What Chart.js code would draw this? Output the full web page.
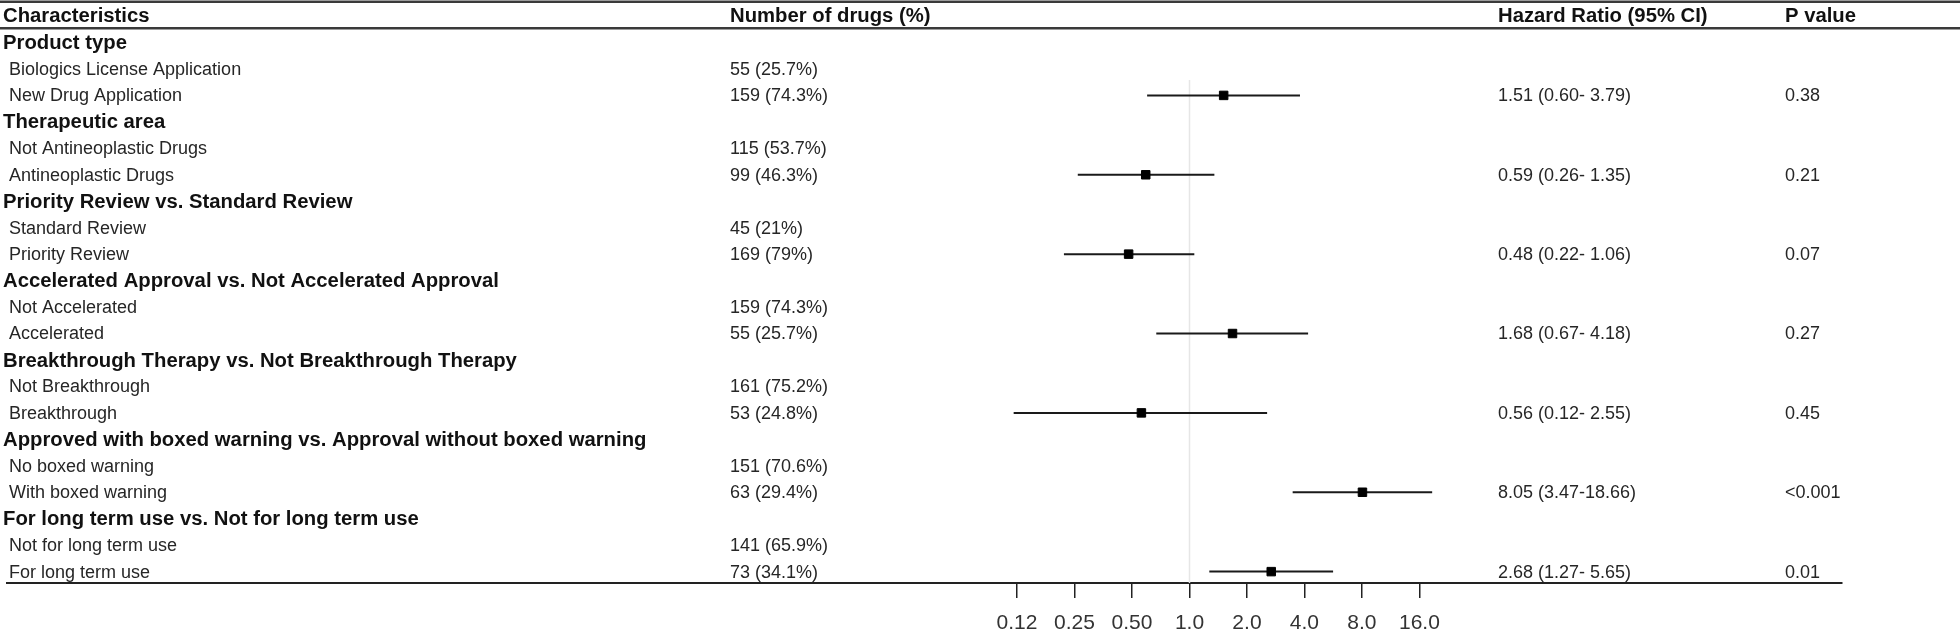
<!DOCTYPE html>
<html>
<head>
<meta charset="utf-8">
<script src="https://cdn.jsdelivr.net/npm/chart.js@4.4.1/dist/chart.umd.min.js"></script>
<style>
html,body{margin:0;padding:0;background:#ffffff;}
#wrap{width:1960px;height:639px;}
</style>
</head>
<body>
<div id="wrap"><canvas id="c" width="1960" height="639"></canvas></div>
<script>
// ---------------- data ----------------
const columnHeaders = ['Characteristics', 'Number of drugs (%)', 'Hazard Ratio (95% CI)', 'P value'];

const rowLabels = [
  'Product type', 'Biologics License Application', 'New Drug Application',
  'Therapeutic area', 'Not Antineoplastic Drugs', 'Antineoplastic Drugs',
  'Priority Review vs. Standard Review', 'Standard Review', 'Priority Review',
  'Accelerated Approval vs. Not Accelerated Approval', 'Not Accelerated', 'Accelerated',
  'Breakthrough Therapy vs. Not Breakthrough Therapy', 'Not Breakthrough', 'Breakthrough',
  'Approved with boxed warning vs. Approval without boxed warning', 'No boxed warning', 'With boxed warning',
  'For long term use vs. Not for long term use', 'Not for long term use', 'For long term use'
];

const isGroupHeader = [1,0,0, 1,0,0, 1,0,0, 1,0,0, 1,0,0, 1,0,0, 1,0,0];

const drugCounts = [
  '', '55 (25.7%)', '159 (74.3%)',
  '', '115 (53.7%)', '99 (46.3%)',
  '', '45 (21%)', '169 (79%)',
  '', '159 (74.3%)', '55 (25.7%)',
  '', '161 (75.2%)', '53 (24.8%)',
  '', '151 (70.6%)', '63 (29.4%)',
  '', '141 (65.9%)', '73 (34.1%)'
];

const hazardRatio = [null,null,1.51, null,null,0.59, null,null,0.48, null,null,1.68, null,null,0.56, null,null,8.05, null,null,2.68];
const ciLower     = [null,null,0.60, null,null,0.26, null,null,0.22, null,null,0.67, null,null,0.12, null,null,3.47, null,null,1.27];
const ciUpper     = [null,null,3.79, null,null,1.35, null,null,1.06, null,null,4.18, null,null,2.55, null,null,18.66, null,null,5.65];

const hrText = [
  '', '', '1.51 (0.60- 3.79)',
  '', '', '0.59 (0.26- 1.35)',
  '', '', '0.48 (0.22- 1.06)',
  '', '', '1.68 (0.67- 4.18)',
  '', '', '0.56 (0.12- 2.55)',
  '', '', '8.05 (3.47-18.66)',
  '', '', '2.68 (1.27- 5.65)'
];

const pValues = [
  '', '', '0.38',
  '', '', '0.21',
  '', '', '0.07',
  '', '', '0.27',
  '', '', '0.45',
  '', '', '<0.001',
  '', '', '0.01'
];

const tickValues = [0.125, 0.25, 0.5, 1, 2, 4, 8, 16];
const tickLabels = ['0.12', '0.25', '0.50', '1.0', '2.0', '4.0', '8.0', '16.0'];
const referenceValue = 1;

// ---------------- layout / style ----------------
const W = 1960;
const FONT = '"Liberation Sans", Arial, sans-serif';
const colX = { label: 3, item: 9, count: 730, hr: 1498, p: 1785 };
const axisLeftPx = 0, axisRightPx = 1842, unityPx = 1187, pxPerDoubling = 57.7;
const xMin = Math.pow(2, (axisLeftPx - unityPx) / pxPerDoubling);
const xMax = Math.pow(2, (axisRightPx - unityPx) / pxPerDoubling);
const yMin = -0.51, yMax = 20.43;

// ---------------- datasets ----------------
const datasets = [];
const markerData = [];
rowLabels.forEach((_, i) => {
  if (hazardRatio[i] !== null) {
    markerData.push({ x: hazardRatio[i], y: i });
    datasets.push({
      type: 'line',
      data: [{ x: ciLower[i], y: i }, { x: ciUpper[i], y: i }],
      borderColor: '#1a1a1a', borderWidth: 2, pointRadius: 0, order: 1, clip: false
    });
  }
});
datasets.push({
  type: 'scatter',
  data: markerData,
  pointStyle: 'rect', pointRadius: 6, borderWidth: 1,
  backgroundColor: '#000', borderColor: '#000', order: 0
});
datasets.push({
  type: 'line',
  data: [{ x: referenceValue, y: 1.42 }, { x: referenceValue, y: yMax }],
  borderColor: '#e6e6e6', borderWidth: 1.5, pointRadius: 0, order: 2
});

// ---------------- text plugin ----------------
const tablePlugin = {
  id: 'tablePlugin',
  afterDraw(chart) {
    const c = chart.ctx;
    const ys = chart.scales.y;
    c.save();
    c.fillStyle = '#3a3a3a';
    c.fillRect(0, 0.5, W, 2.5);
    c.fillRect(0, 27, W, 2.5);

    c.textBaseline = 'middle';
    c.textAlign = 'left';
    c.fillStyle = '#111';
    c.font = 'bold 20.3px ' + FONT;
    c.fillText(columnHeaders[0], colX.label, 16.5);
    c.fillText(columnHeaders[1], colX.count, 16.5);
    c.fillText(columnHeaders[2], colX.hr, 16.5);
    c.fillText(columnHeaders[3], colX.p, 16.5);

    rowLabels.forEach((lab, i) => {
      const y = ys.getPixelForValue(i) + 1;
      if (isGroupHeader[i]) {
        c.font = 'bold 20.3px ' + FONT;
        c.fillStyle = '#111';
        c.fillText(lab, colX.label, y);
      } else {
        c.font = '18px ' + FONT;
        c.fillStyle = '#262626';
        c.fillText(lab, colX.item, y);
        c.fillText(drugCounts[i], colX.count, y);
        if (hrText[i]) c.fillText(hrText[i], colX.hr, y);
        if (pValues[i]) c.fillText(pValues[i], colX.p, y);
      }
    });
    c.restore();
  }
};

new Chart(document.getElementById('c'), {
  type: 'scatter',
  data: { datasets },
  options: {
    responsive: false,
    animation: false,
    layout: { padding: { left: axisLeftPx, right: W - axisRightPx, top: 29, bottom: 0 } },
    plugins: { legend: { display: false }, tooltip: { enabled: false } },
    scales: {
      x: {
        type: 'logarithmic',
        bounds: 'data',
        min: xMin, max: xMax,
        afterBuildTicks: (s) => { s.ticks = tickValues.map(v => ({ value: v })); },
        afterFit: (s) => { s.height = s.height - 10; },
        ticks: {
          autoSkip: false, maxRotation: 0, minRotation: 0, padding: 15,
          color: '#333', font: { family: FONT, size: 21, lineHeight: 1 },
          callback: (v, i) => tickLabels[i]
        },
        grid: { drawOnChartArea: false, drawTicks: true, tickLength: 15, color: '#222', lineWidth: 1.5 },
        border: { display: true, color: '#222', width: 2 }
      },
      y: { type: 'linear', display: false, reverse: true, bounds: 'data', min: yMin, max: yMax }
    }
  },
  plugins: [tablePlugin]
});
</script>
</body>
</html>
